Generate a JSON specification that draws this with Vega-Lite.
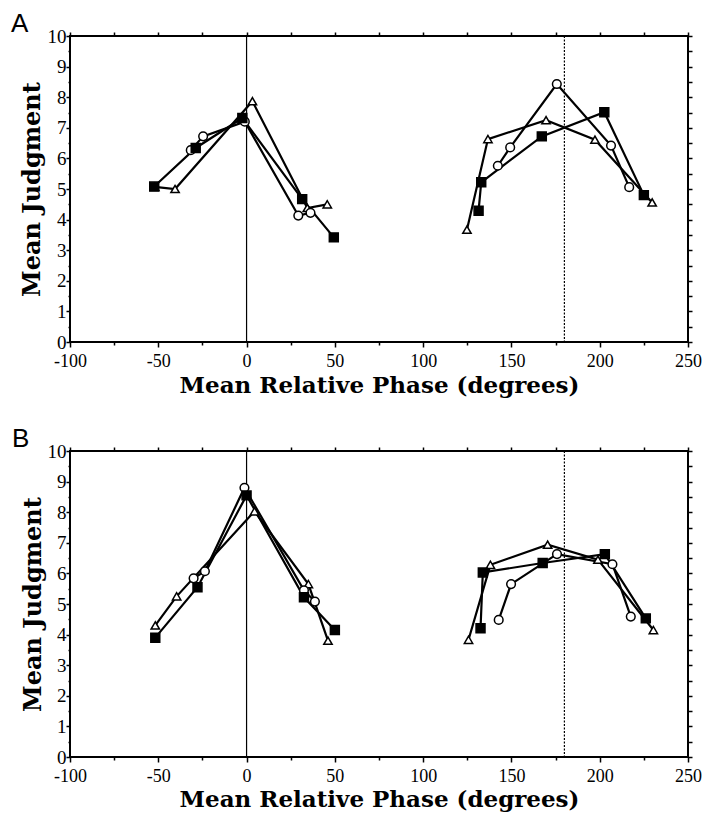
{
  "$schema": "https://vega.github.io/schema/vega-lite/v6.json",
  "background": "white",
  "padding": {"left": 10, "top": 10, "right": 0, "bottom": 0},
  "autosize": {"type": "pad"},
  "spacing": 27,
  "config": {
    "view": {"stroke": "black", "strokeWidth": 2},
    "axis": {"grid": false, "domain": false, "tickColor": "black", "tickWidth": 1.5, "labelColor": "black", "titleColor": "black"}
  },
  "datasets": {
    "A": [
      {"side": "L", "series": "tri", "x": -52, "y": 5.07},
      {"side": "L", "series": "tri", "x": -40.5, "y": 5.0},
      {"side": "L", "series": "tri", "x": 3.3, "y": 7.87},
      {"side": "L", "series": "tri", "x": 34.4, "y": 4.38},
      {"side": "L", "series": "tri", "x": 45.7, "y": 4.5},
      {"side": "R", "series": "tri", "x": 124.8, "y": 3.67},
      {"side": "R", "series": "tri", "x": 136.7, "y": 6.63},
      {"side": "R", "series": "tri", "x": 169.6, "y": 7.25},
      {"side": "R", "series": "tri", "x": 197.3, "y": 6.61},
      {"side": "R", "series": "tri", "x": 229.7, "y": 4.56},
      {"side": "L", "series": "circ", "x": -31.6, "y": 6.27},
      {"side": "L", "series": "circ", "x": -24.6, "y": 6.72},
      {"side": "L", "series": "circ", "x": -1, "y": 7.2},
      {"side": "L", "series": "circ", "x": 29.3, "y": 4.13},
      {"side": "L", "series": "circ", "x": 36.2, "y": 4.22},
      {"side": "R", "series": "circ", "x": 142.3, "y": 5.76},
      {"side": "R", "series": "circ", "x": 149.3, "y": 6.36},
      {"side": "R", "series": "circ", "x": 175.7, "y": 8.43},
      {"side": "R", "series": "circ", "x": 206.4, "y": 6.42},
      {"side": "R", "series": "circ", "x": 216.7, "y": 5.06},
      {"side": "L", "series": "sq", "x": -52.3, "y": 5.08},
      {"side": "L", "series": "sq", "x": -28.8, "y": 6.34},
      {"side": "L", "series": "sq", "x": -2.4, "y": 7.32},
      {"side": "L", "series": "sq", "x": 31.5, "y": 4.67},
      {"side": "L", "series": "sq", "x": 49.4, "y": 3.42},
      {"side": "R", "series": "sq", "x": 131.4, "y": 4.29},
      {"side": "R", "series": "sq", "x": 132.9, "y": 5.22},
      {"side": "R", "series": "sq", "x": 167.2, "y": 6.72},
      {"side": "R", "series": "sq", "x": 202.6, "y": 7.51},
      {"side": "R", "series": "sq", "x": 225, "y": 4.8}
    ],
    "B": [
      {"side": "L", "series": "tri", "x": -51.7, "y": 4.3},
      {"side": "L", "series": "tri", "x": -39.6, "y": 5.25},
      {"side": "L", "series": "tri", "x": 4.5, "y": 8.03},
      {"side": "L", "series": "tri", "x": 35, "y": 5.65},
      {"side": "L", "series": "tri", "x": 46.1, "y": 3.8},
      {"side": "R", "series": "tri", "x": 125.7, "y": 3.83},
      {"side": "R", "series": "tri", "x": 138.1, "y": 6.28},
      {"side": "R", "series": "tri", "x": 170.5, "y": 6.94},
      {"side": "R", "series": "tri", "x": 199, "y": 6.45},
      {"side": "R", "series": "tri", "x": 230.4, "y": 4.15},
      {"side": "L", "series": "circ", "x": -30, "y": 5.84},
      {"side": "L", "series": "circ", "x": -23.6, "y": 6.07},
      {"side": "L", "series": "circ", "x": -1.2, "y": 8.8},
      {"side": "L", "series": "circ", "x": 32.5, "y": 5.45},
      {"side": "L", "series": "circ", "x": 38.7, "y": 5.08},
      {"side": "R", "series": "circ", "x": 142.8, "y": 4.48},
      {"side": "R", "series": "circ", "x": 149.8, "y": 5.65},
      {"side": "R", "series": "circ", "x": 175.8, "y": 6.63},
      {"side": "R", "series": "circ", "x": 207.2, "y": 6.3},
      {"side": "R", "series": "circ", "x": 217.6, "y": 4.59},
      {"side": "L", "series": "sq", "x": -51.7, "y": 3.9},
      {"side": "L", "series": "sq", "x": -27.8, "y": 5.55},
      {"side": "L", "series": "sq", "x": 0, "y": 8.55},
      {"side": "L", "series": "sq", "x": 32.5, "y": 5.22},
      {"side": "L", "series": "sq", "x": 50, "y": 4.15},
      {"side": "R", "series": "sq", "x": 132.5, "y": 4.21},
      {"side": "R", "series": "sq", "x": 133.8, "y": 6.03},
      {"side": "R", "series": "sq", "x": 167.7, "y": 6.34},
      {"side": "R", "series": "sq", "x": 202.9, "y": 6.63},
      {"side": "R", "series": "sq", "x": 226.1, "y": 4.53}
    ],
    "refs": [
      {"ref": 0, "kind": "solid"},
      {"ref": 180, "kind": "dot"}
    ]
  },
  "vconcat": [
    {
      "width": 618,
      "height": 306,
      "title": {"text": "A", "anchor": "start", "frame": "group", "dx": -59, "offset": -10, "font": "Liberation Sans", "fontSize": 26, "fontWeight": "normal", "color": "black"},
      "layer": [
        {
          "data": {"name": "refs"},
          "mark": {"type": "rule", "color": "black", "strokeWidth": 1.2},
          "encoding": {
            "x": {"field": "ref", "type": "quantitative", "scale": {"domain": [-100, 250], "nice": false, "zero": false},
              "axis": {"orient": "bottom", "values": [-100, -75, -50, -25, 0, 25, 50, 75, 100, 125, 150, 175, 200, 225, 250],
                "labelExpr": "datum.value % 50 == 0 ? '' + datum.value : ''",
                "tickSize": {"condition": {"test": "datum.value % 50 == 0", "value": 5}, "value": 3},
                "labelFont": "Liberation Serif", "labelFontSize": 18, "labelPadding": 5, "labelFlush": false,
                "title": "Mean  Relative  Phase  (degrees)", "titleFont": "DejaVu Serif", "titleFontSize": 23, "titleFontWeight": "bold", "titlePadding": 4}},
            "strokeDash": {"field": "kind", "type": "nominal", "scale": {"domain": ["solid", "dot"], "range": [[1, 0], [2, 1.5]]}, "legend": null}
          }
        },
        {
          "data": {"name": "A"},
          "mark": {"type": "line", "color": "black", "strokeWidth": 2.2},
          "encoding": {
            "x": {"field": "x", "type": "quantitative", "axis": {"orient": "top", "values": [-100, -75, -50, -25, 0, 25, 50, 75, 100, 125, 150, 175, 200, 225, 250], "labels": false, "tickSize": 4, "title": null}},
            "y": {"field": "y", "type": "quantitative", "scale": {"domain": [0, 10], "nice": false, "zero": false},
              "axis": {"orient": "left", "values": [0, 0.5, 1, 1.5, 2, 2.5, 3, 3.5, 4, 4.5, 5, 5.5, 6, 6.5, 7, 7.5, 8, 8.5, 9, 9.5, 10],
                "labelExpr": "datum.value % 1 == 0 ? '' + datum.value : ''",
                "tickSize": {"condition": {"test": "datum.value % 1 == 0", "value": 4}, "value": 2},
                "labelFont": "Liberation Serif", "labelFontSize": 19, "labelPadding": 0, "labelFlush": false,
                "title": "Mean   Judgment", "titleFont": "DejaVu Serif", "titleFontSize": 24, "titleFontWeight": "bold", "titlePadding": 3}},
            "detail": [{"field": "series"}, {"field": "side"}]
          }
        },
        {
          "data": {"name": "A"},
          "mark": {"type": "point", "filled": true, "strokeWidth": 1.5, "opacity": 1},
          "encoding": {
            "x": {"field": "x", "type": "quantitative", "axis": null},
            "y": {"field": "y", "type": "quantitative", "axis": {"orient": "right", "values": [0, 0.5, 1, 1.5, 2, 2.5, 3, 3.5, 4, 4.5, 5, 5.5, 6, 6.5, 7, 7.5, 8, 8.5, 9, 9.5, 10], "labels": false, "tickSize": 4, "title": null}},
            "shape": {"field": "series", "type": "nominal", "scale": {"domain": ["tri", "circ", "sq"], "range": ["triangle-up", "circle", "square"]}, "legend": null},
            "fill": {"field": "series", "type": "nominal", "scale": {"domain": ["tri", "circ", "sq"], "range": ["white", "white", "black"]}, "legend": null},
            "size": {"field": "series", "type": "nominal", "scale": {"domain": ["tri", "circ", "sq"], "range": [70, 80, 100]}, "legend": null},
            "stroke": {"value": "black"}
          }
        }
      ],
      "resolve": {"axis": {"x": "independent", "y": "independent"}}
    },
    {
      "width": 618,
      "height": 306,
      "title": {"text": "B", "anchor": "start", "frame": "group", "dx": -58, "offset": -10, "font": "Liberation Sans", "fontSize": 26, "fontWeight": "normal", "color": "black"},
      "layer": [
        {
          "data": {"name": "refs"},
          "mark": {"type": "rule", "color": "black", "strokeWidth": 1.2},
          "encoding": {
            "x": {"field": "ref", "type": "quantitative", "scale": {"domain": [-100, 250], "nice": false, "zero": false},
              "axis": {"orient": "bottom", "values": [-100, -75, -50, -25, 0, 25, 50, 75, 100, 125, 150, 175, 200, 225, 250],
                "labelExpr": "datum.value % 50 == 0 ? '' + datum.value : ''",
                "tickSize": {"condition": {"test": "datum.value % 50 == 0", "value": 5}, "value": 3},
                "labelFont": "Liberation Serif", "labelFontSize": 18, "labelPadding": 5, "labelFlush": false,
                "title": "Mean  Relative  Phase  (degrees)", "titleFont": "DejaVu Serif", "titleFontSize": 23, "titleFontWeight": "bold", "titlePadding": 3}},
            "strokeDash": {"field": "kind", "type": "nominal", "scale": {"domain": ["solid", "dot"], "range": [[1, 0], [2, 1.5]]}, "legend": null}
          }
        },
        {
          "data": {"name": "B"},
          "mark": {"type": "line", "color": "black", "strokeWidth": 2.2},
          "encoding": {
            "x": {"field": "x", "type": "quantitative", "axis": {"orient": "top", "values": [-100, -75, -50, -25, 0, 25, 50, 75, 100, 125, 150, 175, 200, 225, 250], "labels": false, "tickSize": 4, "title": null}},
            "y": {"field": "y", "type": "quantitative", "scale": {"domain": [0, 10], "nice": false, "zero": false},
              "axis": {"orient": "left", "values": [0, 0.5, 1, 1.5, 2, 2.5, 3, 3.5, 4, 4.5, 5, 5.5, 6, 6.5, 7, 7.5, 8, 8.5, 9, 9.5, 10],
                "labelExpr": "datum.value % 1 == 0 ? '' + datum.value : ''",
                "tickSize": {"condition": {"test": "datum.value % 1 == 0", "value": 4}, "value": 2},
                "labelFont": "Liberation Serif", "labelFontSize": 19, "labelPadding": 0, "labelFlush": false,
                "title": "Mean   Judgment", "titleFont": "DejaVu Serif", "titleFontSize": 24, "titleFontWeight": "bold", "titlePadding": 2}},
            "detail": [{"field": "series"}, {"field": "side"}]
          }
        },
        {
          "data": {"name": "B"},
          "mark": {"type": "point", "filled": true, "strokeWidth": 1.5, "opacity": 1},
          "encoding": {
            "x": {"field": "x", "type": "quantitative", "axis": null},
            "y": {"field": "y", "type": "quantitative", "axis": {"orient": "right", "values": [0, 0.5, 1, 1.5, 2, 2.5, 3, 3.5, 4, 4.5, 5, 5.5, 6, 6.5, 7, 7.5, 8, 8.5, 9, 9.5, 10], "labels": false, "tickSize": 4, "title": null}},
            "shape": {"field": "series", "type": "nominal", "scale": {"domain": ["tri", "circ", "sq"], "range": ["triangle-up", "circle", "square"]}, "legend": null},
            "fill": {"field": "series", "type": "nominal", "scale": {"domain": ["tri", "circ", "sq"], "range": ["white", "white", "black"]}, "legend": null},
            "size": {"field": "series", "type": "nominal", "scale": {"domain": ["tri", "circ", "sq"], "range": [70, 80, 100]}, "legend": null},
            "stroke": {"value": "black"}
          }
        }
      ],
      "resolve": {"axis": {"x": "independent", "y": "independent"}}
    }
  ]
}
